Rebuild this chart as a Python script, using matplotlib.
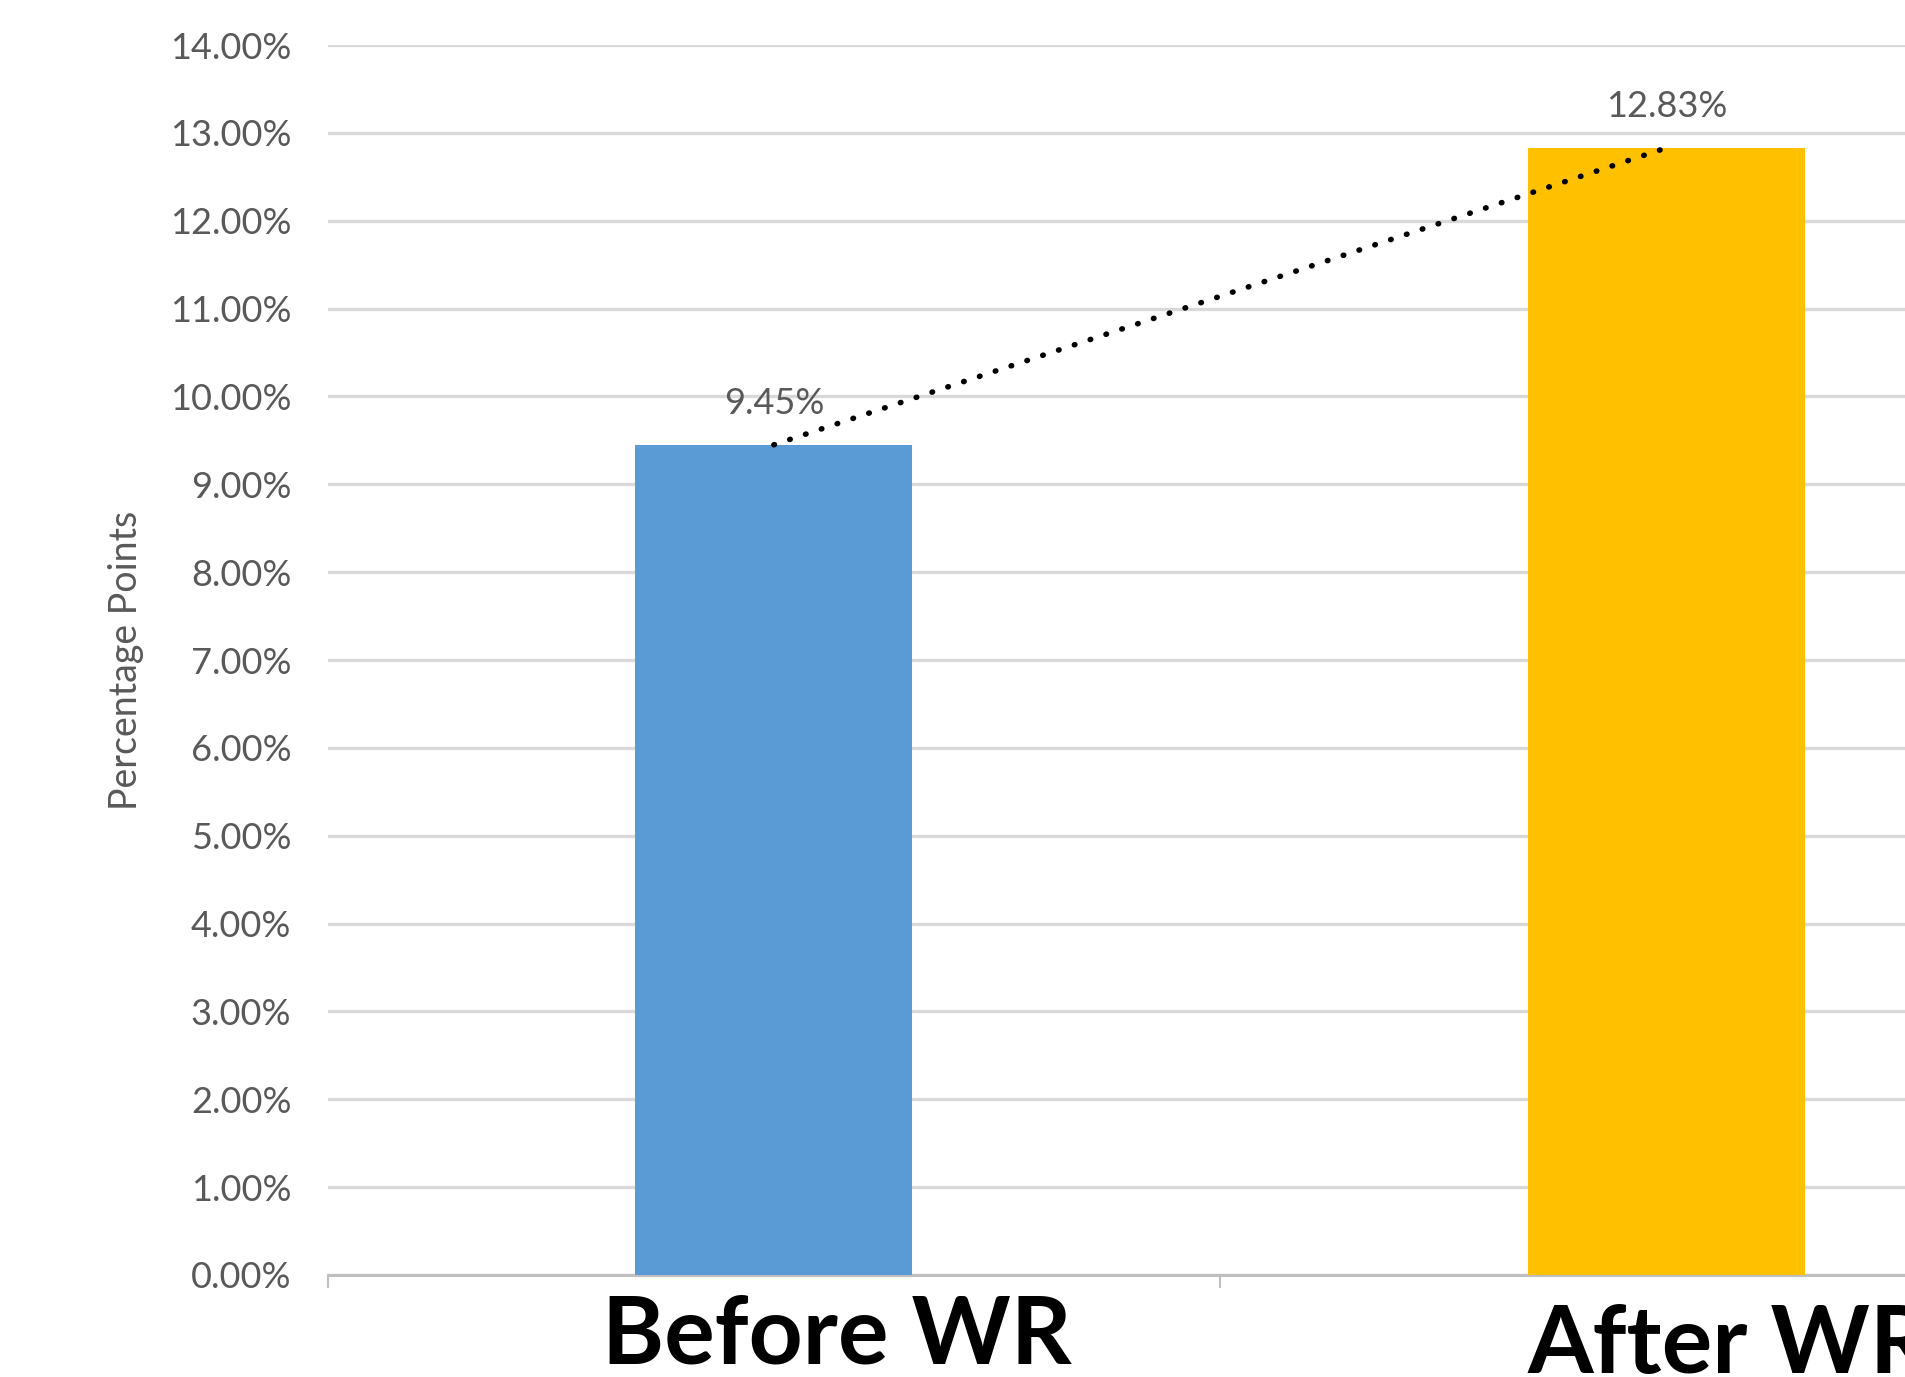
import matplotlib
matplotlib.use("Agg")
import matplotlib.pyplot as plt
import matplotlib.transforms as mtransforms
from matplotlib.ticker import FixedLocator, PercentFormatter

# Data
categories = ["Before WR", "After WR"]
values = [9.45, 12.83]          # percent
bar_colors = ["#5B9BD5", "#FFC000"]
y_ticks = [0, 1, 2, 3, 4, 5, 6, 7, 8, 9, 10, 11, 12, 13, 14]

W, H = 1905, 1377
fig = plt.figure(figsize=(W / 100, H / 100), dpi=100)
fig.patch.set_facecolor("white")

# axes run past the right edge of the canvas
left_px, right_px = 327.5, 2113
bottom_px, top_px = 102, 1332
ax = fig.add_axes([left_px / W, bottom_px / H,
                   (right_px - left_px) / W, (top_px - bottom_px) / H])

x = list(range(len(categories)))
ax.bar(x, values, width=0.31, color=bar_colors, zorder=3)

# dotted connector between the bar tops
ax.plot(x, values, color="black", lw=4.0,
        linestyle=(0, (0.1, 2.9)), dash_capstyle="round", zorder=4)

ax.set_xlim(-0.5, len(categories) - 0.5)
ax.set_ylim(0, 14)

gray = "#595959"
ax.yaxis.set_major_locator(FixedLocator(y_ticks))
ax.yaxis.set_major_formatter(PercentFormatter(decimals=2))
ax.tick_params(axis="y", length=0, pad=26, labelsize=26, labelcolor=gray)
for lab in ax.get_yticklabels():
    lab.set_family("Lato")

ax.grid(axis="y", color="#d9d9d9", lw=2.4, zorder=0)
ax.set_axisbelow(True)

# category boundary ticks on the x axis
ax.set_xticks([-0.5, 0.5, 1.5])
ax.set_xticklabels([])
ax.tick_params(axis="x", length=9, width=1.5, color="#bfbfbf", direction="out")

for side in ["top", "right", "left"]:
    ax.spines[side].set_visible(False)
ax.spines["bottom"].set_color("#bfbfbf")
ax.spines["bottom"].set_linewidth(2.2)

ax.set_ylabel("Percentage Points", fontsize=27, color=gray, family="Lato",
              labelpad=0)
ax.yaxis.set_label_coords(-(left_px - 144) / (right_px - left_px), 0.5)

# value labels above bars
for xi, v in zip(x, values):
    ax.annotate(f"{v:.2f}%", (xi, v), xytext=(0, 18), textcoords="offset points",
                ha="center", va="bottom", fontsize=26, color=gray, family="Lato")

# large category captions below the axis
trans = mtransforms.blended_transform_factory(ax.transData, fig.transFigure)
cap_offsets = [0.07, 0.07]
cap_y = [1 - 1363 / H, 1 - 1373 / H]
for xi, name, dx, yy in zip(x, categories, cap_offsets, cap_y):
    ax.text(xi + dx, yy, name, transform=trans, ha="center", va="baseline",
            fontsize=68, fontweight="bold", family="Lato", color="black",
            clip_on=False)

fig.savefig("out.png", dpi=100)
